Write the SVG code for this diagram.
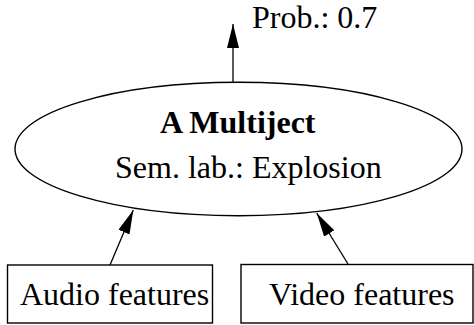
<svg xmlns="http://www.w3.org/2000/svg" width="474" height="325" viewBox="0 0 474 325">
<style>
text{font-family:"Liberation Serif","Times New Roman",serif;font-size:32px;fill:#000}
.b{font-weight:bold}
.shape{fill:#fff;stroke:#000;stroke-width:1.4}
.edge{fill:none;stroke:#000;stroke-width:1.3}
</style>
<defs>
<marker id="ah" markerUnits="userSpaceOnUse" markerWidth="24" markerHeight="12" refX="24" refY="6" orient="auto">
<path d="M0,0 L24,6 L0,12 z" fill="#000"/>
</marker>
</defs>
<rect width="474" height="325" fill="#fff"/>
<g id="connectors">
<line class="edge" x1="233" y1="82" x2="233" y2="24" marker-end="url(#ah)"/>
<line class="edge" x1="110" y1="265" x2="133.3" y2="210" marker-end="url(#ah)"/>
<line class="edge" x1="348" y1="264" x2="316.7" y2="213" marker-end="url(#ah)"/>
</g>
<g id="multiject">
<ellipse class="shape" cx="238.5" cy="149" rx="223.5" ry="66.7"/>
<text class="b" x="160" y="133">A Multiject</text>
<text x="115" y="178">Sem. lab.: Explosion</text>
</g>
<g id="prob">
<text x="252" y="28">Prob.: 0.7</text>
</g>
<g id="audio">
<rect class="shape" x="7.5" y="265" width="205" height="58"/>
<text x="20" y="305">Audio features</text>
</g>
<g id="video">
<rect class="shape" x="241" y="264.5" width="232" height="58.5"/>
<text x="269" y="305">Video features</text>
</g>
</svg>
